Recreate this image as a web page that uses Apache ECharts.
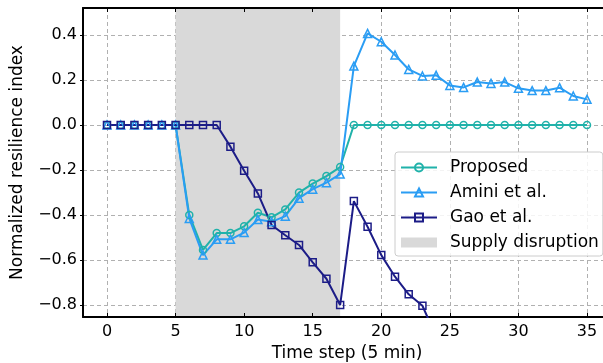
<!DOCTYPE html>
<html>
<head>
<meta charset="utf-8">
<script src="https://cdn.jsdelivr.net/npm/echarts@6/dist/echarts.min.js"></script>
<style>
  html, body { margin: 0; padding: 0; background: #fff; overflow: hidden; }
  #chart { width: 612px; height: 363px; }
</style>
</head>
<body>
<div id="chart"></div>
<script>
// Values.
var timeSteps = [];
for (var t = 0; t <= 35; t++) timeSteps.push(t);

var proposed = [0, 0, 0, 0, 0, 0, -0.40, -0.555, -0.48, -0.48, -0.45, -0.39, -0.41, -0.375,
  -0.30, -0.26, -0.227, -0.187, 0, 0, 0, 0, 0, 0, 0, 0, 0, 0, 0, 0, 0, 0, 0, 0, 0, 0];
var amini = [0, 0, 0, 0, 0, 0, -0.415, -0.578, -0.508, -0.508, -0.478, -0.42, -0.43, -0.405,
  -0.325, -0.285, -0.256, -0.218, 0.262, 0.407, 0.37, 0.311, 0.247, 0.218, 0.221, 0.176,
  0.167, 0.191, 0.185, 0.191, 0.163, 0.153, 0.153, 0.166, 0.129, 0.114];
var gao = [0, 0, 0, 0, 0, 0, 0, 0, 0, -0.096, -0.203, -0.304, -0.444, -0.49, -0.533, -0.61,
  -0.683, -0.8, -0.338, -0.452, -0.578, -0.674, -0.752, -0.803, -0.94];
var disruption = [5, 17];

var C_PROP = "#20b2aa", C_AMINI = "#2a9df4", C_GAO = "#1c1c87", C_SHADE = "#d9d9d9";
var FONT = "DejaVu Sans";

function pairs(vals) {
  return vals.map(function (v, i) { return [timeSteps[i], v]; });
}

function lineSeries(name, vals, color, symbol, size) {
  return {
    name: name, type: "line", data: pairs(vals), z: 3,
    symbol: symbol, symbolSize: size, showAllSymbol: true,
    lineStyle: { color: color, width: 2 },
    itemStyle: { color: "rgba(255,255,255,0)", borderColor: color, borderWidth: 1.5 },
    emphasis: { disabled: true }, animation: false
  };
}

function fmtY(v) {
  return v.toFixed(1).replace("-", "\u2212");
}

var chart = echarts.init(document.getElementById("chart"), null, { renderer: "canvas" });

var grid = "#b0b0b0";
var option = {
  animation: false,
  textStyle: { fontFamily: FONT },
  grid: { left: 83, right: 1, top: 8, bottom: 46, containLabel: false, outerBoundsMode: "none" },
  legend: {
    orient: "vertical", left: 395, top: 152,
    itemWidth: 36, itemHeight: 10, itemGap: 8,
    padding: [7, 4, 5, 5],
    backgroundColor: "rgba(255,255,255,0.85)",
    borderColor: "#cccccc", borderWidth: 1, borderRadius: 3,
    textStyle: { fontFamily: FONT, fontSize: 17, color: "#000", padding: [0, 0, 0, 8] },
    data: ["Proposed", "Amini et al.", "Gao et al.", { name: "Supply disruption", icon: "rect" }]
  },
  xAxis: [{
    type: "value", min: -1.75, max: 36.75, splitNumber: 7,
    name: "Time step (5 min)", nameLocation: "middle", nameGap: 28,
    nameTextStyle: { fontFamily: FONT, fontSize: 17, color: "#000" },
    axisLine: { onZero: false, lineStyle: { color: "#000", width: 2 } },
    axisTick: { inside: true, length: 4, lineStyle: { color: "#000", width: 1 } },
    axisLabel: {
      fontFamily: FONT, fontSize: 16, color: "#000", margin: 7,
      showMinLabel: false, showMaxLabel: false,
      formatter: function (v) { return v % 5 === 0 ? String(v) : ""; }
    },
    splitLine: { show: true, lineStyle: { color: grid, type: [4, 3], width: 1 } }
  }, {
    type: "value", min: -1.75, max: 36.75, splitNumber: 7, position: "top",
    axisLine: { onZero: false, lineStyle: { color: "#000", width: 2 } },
    axisTick: { inside: true, length: 4, lineStyle: { color: "#000" } },
    axisLabel: { show: false }, splitLine: { show: false }
  }],
  yAxis: [{
    type: "value", min: -0.853, max: 0.52, splitNumber: 7,
    name: "Normalized resilience index", nameLocation: "middle", nameGap: 57,
    nameTextStyle: { fontFamily: FONT, fontSize: 17, color: "#000" },
    axisLine: { onZero: false, lineStyle: { color: "#000", width: 2 } },
    axisTick: { inside: false, length: 3, lineStyle: { color: "#000" } },
    axisLabel: {
      fontFamily: FONT, fontSize: 16, color: "#000", margin: 6,
      showMinLabel: false, showMaxLabel: false,
      formatter: function (v) {
        var r = Math.round(v * 10) / 10;
        return Math.abs(r * 5 - Math.round(r * 5)) < 1e-6 && Math.abs(v - r) < 1e-6 ? fmtY(v) : "";
      }
    },
    splitLine: { show: true, lineStyle: { color: grid, type: [4, 3], width: 1 } }
  }, {
    type: "value", min: -0.853, max: 0.52, splitNumber: 7, position: "right",
    axisLine: { onZero: false, lineStyle: { color: "#000", width: 2 } },
    axisTick: { inside: true, length: 4, lineStyle: { color: "#000" } },
    axisLabel: { show: false }, splitLine: { show: false }
  }],
  series: [
    lineSeries("Proposed", proposed, C_PROP, "circle", 7),
    lineSeries("Amini et al.", amini, C_AMINI, "triangle", 8),
    lineSeries("Gao et al.", gao, C_GAO, "rect", 7),
    {
      name: "Supply disruption", type: "bar", data: [], z: 1,
      itemStyle: { color: C_SHADE },
      markArea: {
        silent: true, z: 0,
        itemStyle: { color: C_SHADE },
        data: [[{ xAxis: disruption[0] }, { xAxis: disruption[1] }]]
      }
    }
  ]
};

chart.setOption(option);
</script>
</body>
</html>
